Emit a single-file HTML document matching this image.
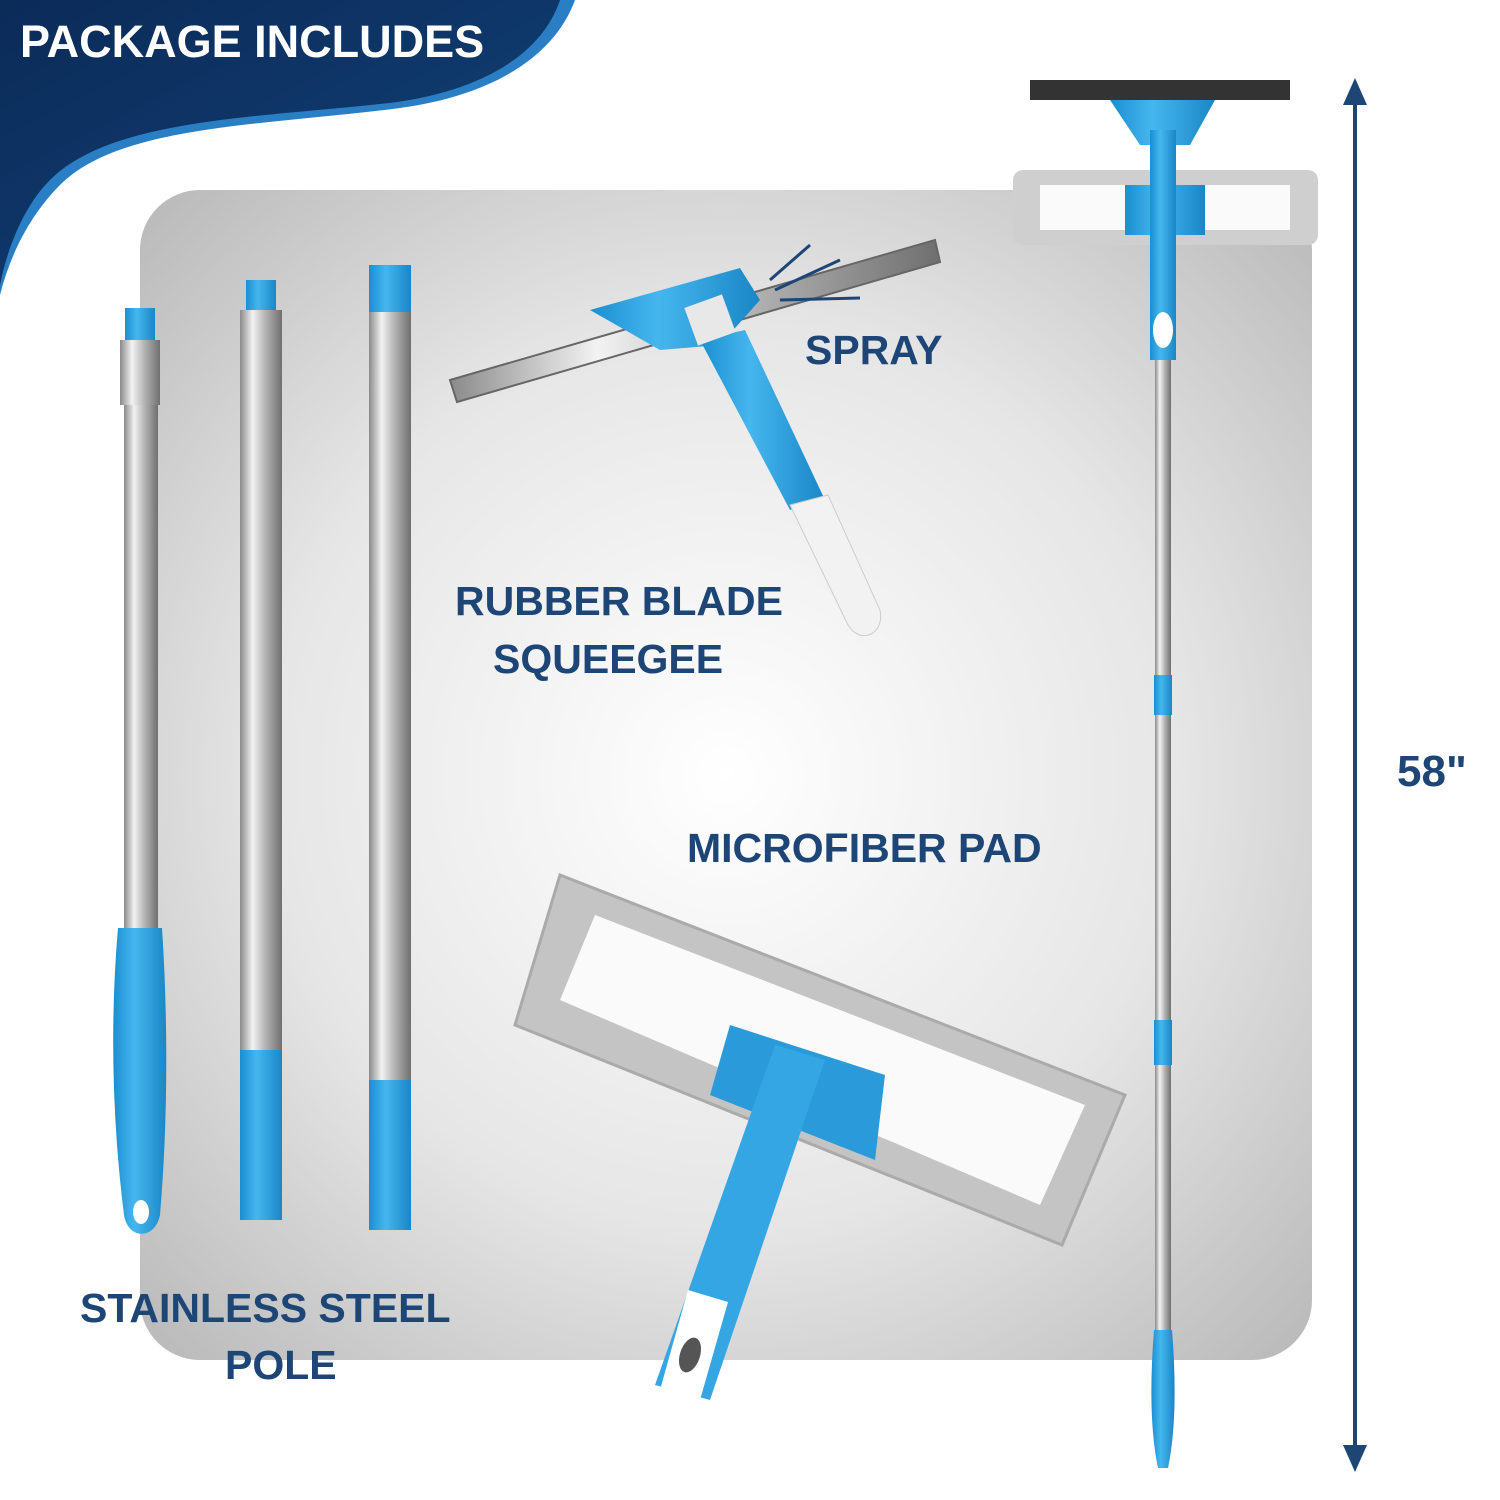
<!DOCTYPE html>
<html><head><meta charset="utf-8"><style>
html,body{margin:0;padding:0;background:#fff;}
svg{display:block;}
text{font-family:"Liberation Sans",sans-serif;font-weight:bold;}
</style></head><body>
<svg width="1500" height="1500" viewBox="0 0 1500 1500" xmlns="http://www.w3.org/2000/svg">
<defs>
<radialGradient id="bg" cx="0.5" cy="0.5" r="0.7">
<stop offset="0" stop-color="#ffffff"/><stop offset="0.55" stop-color="#e6e6e6"/><stop offset="1" stop-color="#b9b9b9"/>
</radialGradient>
<linearGradient id="steel" x1="0" x2="1" y1="0" y2="0">
<stop offset="0" stop-color="#8a8a8a"/><stop offset="0.3" stop-color="#f2f2f2"/><stop offset="0.6" stop-color="#b5b5b5"/><stop offset="1" stop-color="#6f6f6f"/>
</linearGradient>
<linearGradient id="blue" x1="0" x2="1" y1="0" y2="0">
<stop offset="0" stop-color="#1a8fd0"/><stop offset="0.4" stop-color="#45b6ee"/><stop offset="1" stop-color="#1a86c6"/>
</linearGradient>
<linearGradient id="hdr" x1="0" x2="1" y1="0" y2="1">
<stop offset="0" stop-color="#0b2b58"/><stop offset="1" stop-color="#12427a"/>
</linearGradient>
</defs>
<rect width="1500" height="1500" fill="#fff"/>
<rect x="140" y="190" width="1172" height="1170" rx="60" fill="url(#bg)"/>

<!-- header -->
<path d="M0,0 H575 C555,55 495,95 400,108 C260,126 120,125 60,185 C30,215 10,255 0,295 Z" fill="#2a7fc4"/>
<path d="M0,0 H560 C540,60 470,95 380,104 C250,118 110,120 50,180 C25,205 8,245 0,285 Z" fill="url(#hdr)"/>
<text x="20" y="57" font-size="45" fill="#fff">PACKAGE INCLUDES</text>

<!-- pole 1 -->
<rect x="125" y="308" width="30" height="35" fill="url(#blue)"/>
<rect x="120" y="340" width="40" height="65" fill="url(#steel)"/>
<rect x="124" y="405" width="34" height="525" fill="url(#steel)"/>
<path d="M118,928 H162 C168,1020 168,1120 160,1215 C155,1240 128,1240 124,1215 C112,1120 110,1020 118,928 Z" fill="url(#blue)"/>
<ellipse cx="141" cy="1212" rx="8" ry="12" fill="#fff"/>
<!-- pole 2 -->
<rect x="246" y="280" width="30" height="32" fill="url(#blue)"/>
<rect x="240" y="310" width="42" height="740" fill="url(#steel)"/>
<rect x="240" y="1050" width="42" height="170" fill="url(#blue)"/>
<!-- pole 3 -->
<rect x="369" y="265" width="42" height="48" fill="url(#blue)"/>
<rect x="369" y="312" width="42" height="770" fill="url(#steel)"/>
<rect x="369" y="1080" width="42" height="150" fill="url(#blue)"/>

<!-- squeegee -->
<polygon points="450,380 935,240 940,262 457,402" fill="url(#steel)" stroke="#666" stroke-width="2"/>
<polygon points="590,310 740,268 760,300 720,345 660,350" fill="url(#blue)"/>
<polygon points="700,340 745,330 825,500 790,510" fill="url(#blue)"/>
<path d="M790,505 L828,495 L880,610 C885,635 860,645 848,625 Z" fill="#f2f2f2" stroke="#ccc"/>
<rect x="690" y="300" width="40" height="40" fill="#e8e8e8" transform="rotate(-20 710 320)"/>
<g stroke="#1d4677" stroke-width="3"><line x1="775" y1="290" x2="840" y2="260"/><line x1="780" y1="300" x2="860" y2="298"/><line x1="770" y1="280" x2="810" y2="245"/></g>

<!-- right assembled tool -->
<rect x="1030" y="80" width="260" height="20" fill="#333"/>
<polygon points="1110,100 1215,100 1190,145 1140,145" fill="url(#blue)"/>
<rect x="1013" y="170" width="305" height="75" rx="10" fill="#cfcfcf"/>
<rect x="1040" y="185" width="250" height="45" fill="#fafafa"/>
<rect x="1125" y="185" width="80" height="50" fill="url(#blue)"/>
<rect x="1150" y="130" width="26" height="230" fill="url(#blue)"/>
<ellipse cx="1163" cy="330" rx="10" ry="18" fill="#fff"/>
<rect x="1155" y="360" width="16" height="315" fill="url(#steel)"/>
<rect x="1154" y="675" width="18" height="40" fill="url(#blue)"/>
<rect x="1155" y="715" width="16" height="305" fill="url(#steel)"/>
<rect x="1154" y="1020" width="18" height="45" fill="url(#blue)"/>
<rect x="1155" y="1065" width="16" height="265" fill="url(#steel)"/>
<path d="M1154,1330 H1172 C1176,1380 1176,1430 1168,1468 H1158 C1150,1430 1150,1380 1154,1330 Z" fill="url(#blue)"/>

<!-- microfiber pad -->
<polygon points="560,875 1125,1095 1062,1245 515,1025" fill="#c4c4c4" stroke="#aaa" stroke-width="3"/>
<polygon points="595,915 1085,1105 1040,1205 560,1000" fill="#fafafa"/>
<polygon points="730,1025 885,1075 875,1160 710,1095" fill="#2b9ada"/>
<polygon points="775,1045 825,1060 710,1400 655,1385" fill="#35a6e4"/>
<polygon points="688,1290 728,1302 700,1400 660,1390" fill="#fff"/>
<ellipse cx="690" cy="1355" rx="10" ry="18" fill="#555" transform="rotate(18 690 1355)"/>

<!-- arrow -->
<line x1="1355" y1="100" x2="1355" y2="1450" stroke="#1d4677" stroke-width="4"/>
<polygon points="1355,78 1343,105 1367,105" fill="#1d4677"/>
<polygon points="1355,1472 1343,1445 1367,1445" fill="#1d4677"/>

<g fill="#1d4677" font-size="41">
<text x="805" y="364">SPRAY</text>
<text x="455" y="615">RUBBER BLADE</text>
<text x="493" y="673">SQUEEGEE</text>
<text x="687" y="862">MICROFIBER PAD</text>
<text x="80" y="1322">STAINLESS STEEL</text>
<text x="225" y="1379">POLE</text>
<text x="1397" y="786" font-size="44">58"</text>
</g>
</svg>
</body></html>
